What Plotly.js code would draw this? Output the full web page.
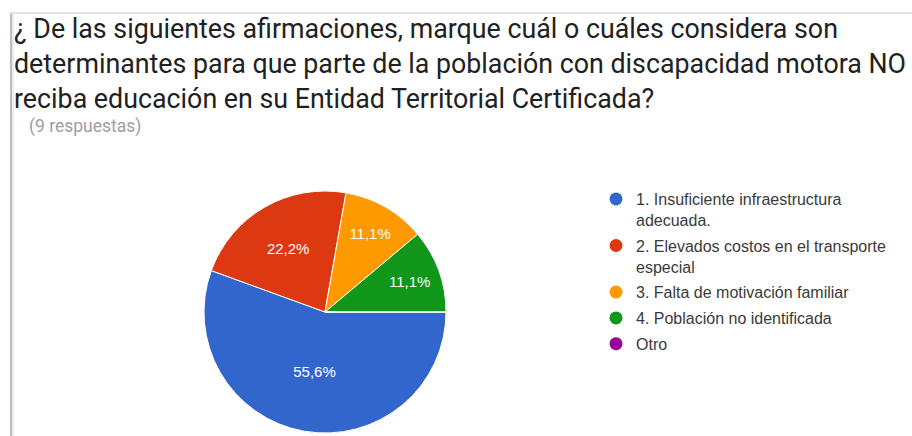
<!DOCTYPE html>
<html>
<head>
<meta charset="utf-8">
<script src="https://cdn.plot.ly/plotly-3.0.1.min.js"></script>
<style>
html,body{margin:0;padding:0;background:#fff;}
#chart{width:912px;height:436px;}
</style>
</head>
<body>
<div id="chart"></div>
<script>
var categories = [
  "1. Insuficiente infraestructura<br>adecuada.",
  "2. Elevados costos en el transporte<br>especial",
  "3. Falta de motivación familiar",
  "4. Población no identificada",
  "Otro"
];
var responses = [5, 2, 1, 1, 0];
var colors = ["#3366cc", "#dc3912", "#ff9900", "#109618", "#990099"];
var titleText = "¿ De las siguientes afirmaciones, marque cuál o cuáles considera son<br>determinantes para que parte de la población con discapacidad motora NO<br>reciba educación en su Entidad Territorial Certificada?";
var subtitleText = "(9 respuestas)";

var traces = [{
  type: "pie",
  values: responses,
  labels: categories,
  sort: false,
  direction: "clockwise",
  rotation: 90,
  marker: {colors: colors, line: {color: "#ffffff", width: 1}},
  texttemplate: responses.map(function(v){ return v > 0 ? "%{percent:.1%}" : ""; }),
  textposition: "inside",
  insidetextorientation: "horizontal",
  textfont: {family: "Arial, Liberation Sans, sans-serif", size: 15, color: "#ffffff"},
  domain: {x: [204/912, 446/912], y: [3/436, 245/436]},
  showlegend: false,
  hoverinfo: "label+percent"
}];

categories.forEach(function(c, i){
  traces.push({
    type: "scatter",
    mode: "markers",
    x: [null], y: [null],
    name: c,
    legendgroup: "g" + i,
    marker: {color: colors[i], size: 13, symbol: "circle"},
    hoverinfo: "skip"
  });
});

var layout = {
  width: 912, height: 436,
  margin: {l: 0, r: 0, t: 0, b: 0},
  paper_bgcolor: "#ffffff",
  plot_bgcolor: "#ffffff",
  separators: ",.",
  title: {
    text: titleText,
    x: 14/912, xanchor: "left", xref: "paper",
    y: 1 - 38/436, yanchor: "top", yref: "paper",
    font: {family: "Roboto, sans-serif", size: 26.8, color: "#212121"}
  },
  xaxis: {visible: false},
  yaxis: {visible: false},
  showlegend: true,
  legend: {
    x: 596/912, xanchor: "left",
    y: 1 - 182/436, yanchor: "top",
    font: {family: "Arial, Liberation Sans, sans-serif", size: 16, color: "#3a3a3a"},
    tracegroupgap: 2,
    valign: "top",
    bgcolor: "rgba(0,0,0,0)"
  },
  annotations: [{
    text: subtitleText,
    xref: "paper", yref: "paper",
    x: 27/912, xanchor: "left",
    y: 1 - 127/436, yanchor: "middle",
    showarrow: false,
    font: {family: "Roboto, sans-serif", size: 17.5, color: "#9e9e9e"}
  }],
  shapes: [
    {type: "line", xref: "paper", yref: "paper", x0: 11/912, x1: 11/912, y0: 0, y1: 1 - 13/436, line: {color: "#bdbdbd", width: 2}},
    {type: "line", xref: "paper", yref: "paper", x0: 13/912, x1: 13/912, y0: 0, y1: 1 - 13/436, line: {color: "#ececec", width: 2}},
    {type: "line", xref: "paper", yref: "paper", x0: 10/912, x1: 1, y0: 1 - 13/436, y1: 1 - 13/436, line: {color: "#e3e3e3", width: 2}}
  ]
};

Plotly.newPlot("chart", traces, layout, {displayModeBar: false, staticPlot: true});
</script>
</body>
</html>
